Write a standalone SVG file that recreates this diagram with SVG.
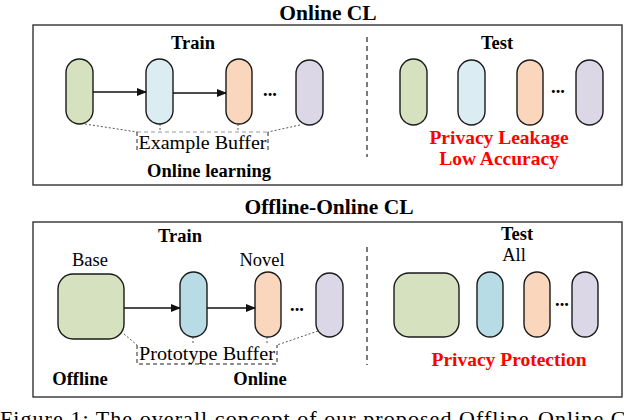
<svg xmlns="http://www.w3.org/2000/svg" width="624" height="420" viewBox="0 0 624 420" font-family="'Liberation Serif', 'Times New Roman', Times, serif">
<style>
text{font-family:"Liberation Serif","Times New Roman",Times,serif;fill:#000}
.b{font-weight:bold;font-size:18.5px}
.t{font-weight:bold;font-size:21.5px}
.r{font-size:18.5px}
.red{fill:#ff0000;font-size:19.5px}
.panel{fill:#fff;stroke:#333;stroke-width:1.4}
.n{stroke:#1a1a1a;stroke-width:1.4}
.g{fill:#d6e2bf}.lb{fill:#dbedf2}.o{fill:#fad7bc}.p{fill:#dcd7e6}.bb{fill:#b8dce6}
.dv{stroke:#222;stroke-width:1.2;stroke-dasharray:5,4;fill:none}
.dot{stroke:#444;stroke-width:0.9;stroke-dasharray:2,2;fill:none}
.bx{stroke:#222;stroke-width:1;stroke-dasharray:4,3;fill:none}
.bxg{stroke:#999;stroke-width:1;stroke-dasharray:4,3;fill:none}
.ar{stroke:#111;stroke-width:1.5;fill:none;marker-end:url(#ah)}
</style>
<defs>
<marker id="ah" markerWidth="10" markerHeight="8" refX="9" refY="4" orient="auto" markerUnits="userSpaceOnUse">
<path d="M0,0 L10,4 L0,8 Z" fill="#111"/>
</marker>
</defs>
<rect width="624" height="420" fill="#fff"/>

<!-- Top panel -->
<text class="t" x="328" y="19.5" text-anchor="middle">Online CL</text>
<rect class="panel" x="33" y="25" width="589" height="160"/>
<line class="dv" x1="367" y1="37" x2="367" y2="157"/>
<text class="b" x="193" y="49" text-anchor="middle">Train</text>
<text class="b" x="497" y="49" text-anchor="middle">Test</text>

<g id="t-train-1"><rect class="n g" x="66" y="59" width="27" height="65" rx="13.5"/></g>
<g id="t-train-2"><rect class="n lb" x="146" y="59" width="27" height="65" rx="13.5"/></g>
<g id="t-train-3"><rect class="n o" x="226" y="59" width="26" height="65" rx="13"/></g>
<g id="t-train-dots"><text class="b" x="270" y="96" text-anchor="middle" font-size="12">...</text></g>
<g id="t-train-4"><rect class="n p" x="296" y="60" width="27" height="65" rx="13.5"/></g>

<g id="t-test-1"><rect class="n g" x="400" y="59" width="27" height="66" rx="13.5"/></g>
<g id="t-test-2"><rect class="n lb" x="458" y="60" width="27" height="65" rx="13.5"/></g>
<g id="t-test-3"><rect class="n o" x="517" y="60" width="26" height="65" rx="13"/></g>
<g id="t-test-dots"><text class="b" x="558" y="93" text-anchor="middle" font-size="12">...</text></g>
<g id="t-test-4"><rect class="n p" x="576" y="60" width="27" height="65" rx="13.5"/></g>

<g id="example-buffer">
<path class="bxg" d="M137,132 H268"/>
<path class="bx" d="M137,132 V153 M268,132 V153"/>
<text class="r" x="202.5" y="149" text-anchor="middle" textLength="128" lengthAdjust="spacingAndGlyphs">Example Buffer</text>
</g>
<text class="b" x="209" y="177" text-anchor="middle" font-size="19.5">Online learning</text>
<text class="b red" x="499" y="144" text-anchor="middle">Privacy Leakage</text>
<text class="b red" x="499" y="165" text-anchor="middle">Low Accuracy</text>

<!-- Bottom panel -->
<text class="t" x="329" y="214" text-anchor="middle">Offline-Online CL</text>
<rect class="panel" x="33" y="222" width="589" height="175"/>
<line class="dv" x1="367" y1="247" x2="367" y2="365"/>
<text class="b" x="180" y="242" text-anchor="middle">Train</text>
<text class="b" x="517" y="240" text-anchor="middle">Test</text>
<text class="r" x="514" y="261" text-anchor="middle">All</text>
<text class="r" x="90" y="266" text-anchor="middle">Base</text>
<text class="r" x="262" y="266" text-anchor="middle">Novel</text>

<g id="b-train-base"><rect class="n g" x="58" y="274" width="66" height="65" rx="15"/></g>
<g id="b-train-2"><rect class="n bb" x="180" y="272" width="27" height="65" rx="13.5"/></g>
<g id="b-train-3"><rect class="n o" x="255" y="272" width="26" height="65" rx="13"/></g>
<g id="b-train-dots"><text class="b" x="297" y="311" text-anchor="middle" font-size="12">...</text></g>
<g id="b-train-4"><rect class="n p" x="316" y="273" width="27" height="64" rx="13.5"/></g>

<g id="b-test-base"><rect class="n g" x="394" y="273" width="65" height="64" rx="15"/></g>
<g id="b-test-2"><rect class="n bb" x="477" y="272" width="26" height="65" rx="13"/></g>
<g id="b-test-3"><rect class="n o" x="524" y="272" width="26" height="65" rx="13"/></g>
<g id="b-test-dots"><text class="b" x="562" y="306" text-anchor="middle" font-size="12">...</text></g>
<g id="b-test-4"><rect class="n p" x="572" y="272" width="26" height="65" rx="13"/></g>

<g id="prototype-buffer">
<path class="bx" d="M137,345 V364 H277 V345"/>
<text class="r" x="207" y="360" text-anchor="middle" textLength="136" lengthAdjust="spacingAndGlyphs">Prototype Buffer</text>
</g>
<text class="b" x="80" y="385" text-anchor="middle">Offline</text>
<text class="b" x="260" y="385" text-anchor="middle">Online</text>
<text class="b red" x="509" y="366" text-anchor="middle">Privacy Protection</text>

<g id="connectors">
<line class="ar" x1="93" y1="92" x2="146" y2="92"/>
<line class="ar" x1="173" y1="93" x2="226" y2="93"/>
<line class="ar" x1="124" y1="308" x2="180" y2="308"/>
<line class="ar" x1="207" y1="308" x2="255" y2="308"/>
<path class="dot" d="M85,124 L137,132"/>
<path class="dot" d="M160,124 V132"/>
<path class="dot" d="M238,124 V132"/>
<path class="dot" d="M300,125 L268,132"/>
<path class="dot" d="M124,334 L137,345"/>
<path class="dot" d="M193,337 V345"/>
<path class="dot" d="M267,337 V345"/>
<path class="dot" d="M318,331 L277,345"/>
</g>

<text x="0" y="426" font-size="22" textLength="640" lengthAdjust="spacing">Figure 1: The overall concept of our proposed Offline-Online CL</text>
</svg>
